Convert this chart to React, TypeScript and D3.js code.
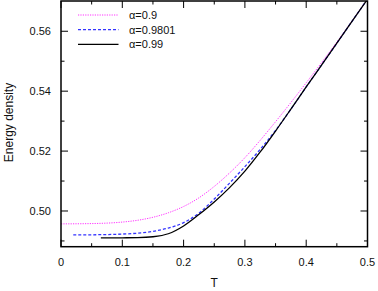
import React from "react";
import * as d3 from "d3";

const tA: number[] = [0, 0.05, 0.1, 0.125, 0.15, 0.175, 0.2, 0.225, 0.25, 0.275, 0.3, 0.325, 0.35, 0.375, 0.4, 0.425, 0.45, 0.475, 0.5];
const eA: number[] = [0.4957, 0.4958, 0.4963, 0.4969, 0.4979, 0.4994, 0.5015, 0.5044, 0.5082, 0.5127, 0.5178, 0.5236, 0.5298, 0.5362, 0.5428, 0.5495, 0.5564, 0.5635, 0.5707];

const tB: number[] = [0.02, 0.05, 0.1, 0.125, 0.15, 0.175, 0.2, 0.225, 0.25, 0.275, 0.3, 0.325, 0.35, 0.375, 0.4, 0.425, 0.45, 0.475, 0.5];
const eB: number[] = [0.492, 0.49205, 0.4923, 0.4926, 0.4932, 0.4943, 0.4961, 0.4993, 0.504, 0.5093, 0.5148, 0.5206, 0.5269, 0.534, 0.5414, 0.5487, 0.556, 0.5634, 0.5707];

const tC: number[] = [0.065, 0.1, 0.125, 0.15, 0.175, 0.2, 0.225, 0.25, 0.275, 0.3, 0.325, 0.35, 0.375, 0.4, 0.425, 0.45, 0.475, 0.5];
const eC: number[] = [0.491, 0.49105, 0.4911, 0.4914, 0.4924, 0.495, 0.4988, 0.503, 0.5078, 0.5133, 0.5197, 0.5267, 0.534, 0.5414, 0.5487, 0.556, 0.5634, 0.5707];

const series = [
  { label: "α=0.9", t: tA, e: eA, color: "#ff33ff", dash: "1.2 1.2", width: 1 },
  { label: "α=0.9801", t: tB, e: eB, color: "#3333ff", dash: "3 2", width: 1.3 },
  { label: "α=0.99", t: tC, e: eC, color: "#000000", dash: "none", width: 1.3 },
];

const xTicks: number[] = [0, 0.1, 0.2, 0.3, 0.4, 0.5];
const xMinor: number[] = [0.05, 0.15, 0.25, 0.35, 0.45];
const yTicks: number[] = [0.5, 0.52, 0.54, 0.56];
const yMinor: number[] = [0.49, 0.51, 0.53, 0.55];

export default function App() {
  const W = 378, H = 291;
  const L = 61, R = 367.5, T = 1, B = 246.7;
  const x = d3.scaleLinear().domain([0, 0.5]).range([L, R]);
  const y = d3.scaleLinear().domain([0.48808, 0.5701]).range([B, T]);
  const font = "'Liberation Sans', Arial, sans-serif";
  const line = (s: typeof series[number]) =>
    d3.line<number>().x((_, i) => x(s.t[i])).y((d) => y(d)).curve(d3.curveMonotoneX)(s.e) || "";
  const maj = 7, mnr = 3.5;
  return (
    <svg width={W} height={H} style={{ position: "absolute", left: 0, top: 0, background: "#fff" }}>
      <defs>
        <clipPath id="clip"><rect x={L} y={T} width={R - L} height={B - T} /></clipPath>
      </defs>
      <g clipPath="url(#clip)">
        {series.map((s) => (
          <path key={s.label} d={line(s)} fill="none" stroke={s.color} strokeWidth={s.width} strokeDasharray={s.dash} />
        ))}
      </g>
      <g stroke="#000" strokeWidth={1}>
        {xTicks.map((v) => (
          <g key={"xt" + v}>
            <line x1={x(v)} x2={x(v)} y1={B} y2={B - maj} />
            <line x1={x(v)} x2={x(v)} y1={T} y2={T + maj} />
          </g>
        ))}
        {xMinor.map((v) => (
          <g key={"xm" + v}>
            <line x1={x(v)} x2={x(v)} y1={B} y2={B - mnr} />
            <line x1={x(v)} x2={x(v)} y1={T} y2={T + mnr} />
          </g>
        ))}
        {yTicks.map((v) => (
          <g key={"yt" + v}>
            <line x1={L} x2={L + maj} y1={y(v)} y2={y(v)} />
            <line x1={R} x2={R - maj} y1={y(v)} y2={y(v)} />
          </g>
        ))}
        {yMinor.map((v) => (
          <g key={"ym" + v}>
            <line x1={L} x2={L + mnr} y1={y(v)} y2={y(v)} />
            <line x1={R} x2={R - mnr} y1={y(v)} y2={y(v)} />
          </g>
        ))}
      </g>
      <rect x={L} y={T} width={R - L} height={B - T} fill="none" stroke="#000" strokeWidth={1.5} />
      <g fontFamily={font} fontSize={11} fill="#111">
        {xTicks.map((v) => (
          <text key={"xl" + v} x={x(v)} y={265.5} textAnchor="middle">{v === 0 ? "0" : d3.format(".1f")(v)}</text>
        ))}
        {yTicks.map((v) => (
          <text key={"yl" + v} x={51} y={y(v)} dy="0.35em" textAnchor="end">{d3.format(".2f")(v)}</text>
        ))}
        <text x={(L + R) / 2} y={286.5} textAnchor="middle" fontSize={12}>T</text>
        <text transform={`translate(12.8,122.5) rotate(-90)`} textAnchor="middle" fontSize={12}>Energy density</text>
        {series.map((s, i) => (
          <g key={"lg" + s.label}>
            <line x1={78} x2={118.5} y1={15 + i * 14.7} y2={15 + i * 14.7} stroke={s.color} strokeWidth={s.width} strokeDasharray={s.dash} />
            <text x={129} y={15 + i * 14.7} dy="0.35em">{s.label}</text>
          </g>
        ))}
      </g>
    </svg>
  );
}
